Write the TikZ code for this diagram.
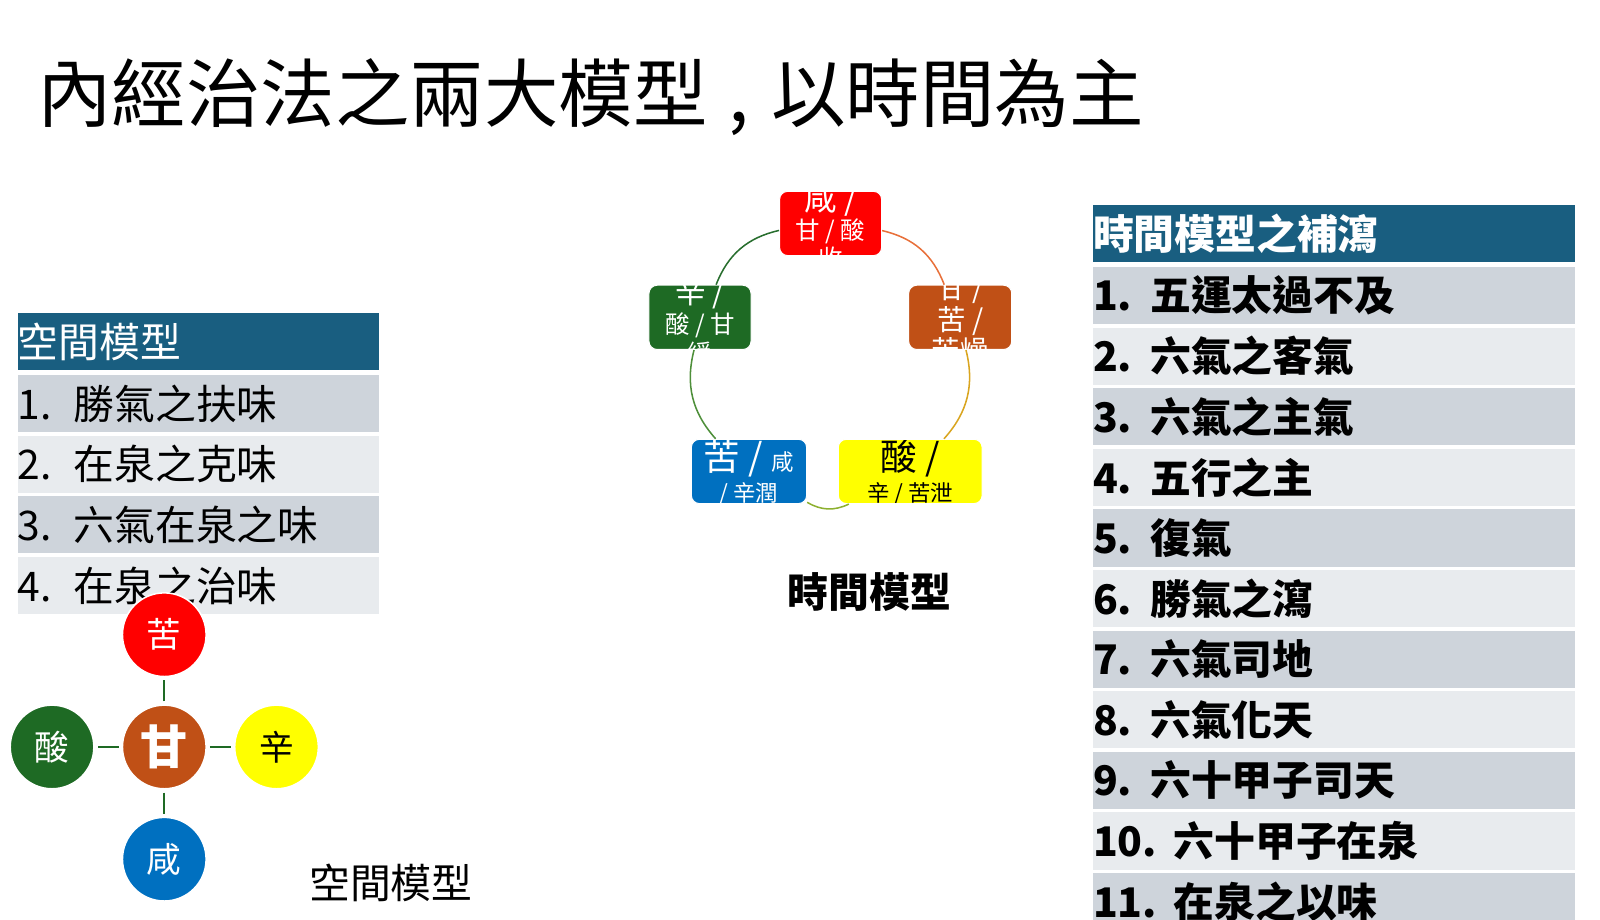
\documentclass[tikz,border=0pt]{standalone}
\usepackage{fontspec}
\setmainfont{Noto Sans CJK TC}
\usepackage{xcolor}
\usepackage{tikz}
\usetikzlibrary{positioning,calc}

\definecolor{hdrblue}{RGB}{25,94,128}
\definecolor{rowdark}{RGB}{206,212,219}
\definecolor{rowlight}{RGB}{232,235,238}
\definecolor{fire}{RGB}{255,0,0}
\definecolor{earth}{RGB}{192,80,22}
\definecolor{wood}{RGB}{30,106,36}
\definecolor{metal}{RGB}{255,255,0}
\definecolor{water}{RGB}{0,112,192}
\definecolor{arcfe}{RGB}{232,112,58}
\definecolor{arcem}{RGB}{217,165,32}
\definecolor{arcmw}{RGB}{141,176,48}
\definecolor{arcww}{RGB}{78,143,58}
\definecolor{arcwf}{RGB}{40,110,46}

\newcommand{\sz}[2]{\fontsize{#1}{#2}\selectfont}
\newcommand{\idx}[2]{\makebox[#1][l]{#2}}

\tikzset{
  hdr/.style={fill=hdrblue, text=white, inner sep=0pt, minimum height=55pt, align=left},
  lrow/.style={inner sep=0pt, minimum height=56pt, text width=354pt, align=left, font=\sz{40}{44}},
  rrow/.style={inner sep=0pt, minimum height=56pt, text width=472pt, align=left, font=\bfseries\sz{40}{44}},
  taste/.style={circle, minimum size=82pt, inner sep=0pt, draw=white, line width=1.5pt, text=white, font=\sz{34}{38}},
  tbox/.style={rounded corners=8pt, minimum height=63pt, inner sep=0pt, draw=white, line width=1pt},
  ring/.style={line width=1.5pt}
}

\begin{document}
\begin{tikzpicture}[x=1pt,y=1pt]
			\useasboundingbox (0,0) rectangle (1568,-901.6);
			\clip (0,0) rectangle (1568,-901.6);
			\node[anchor=west, font=\sz{73}{80}] (title) at (33,-95) {內經治法之兩大模型\hspace{20pt},\hspace{22pt}以時間為主};

			% space model table
			\node[hdr, anchor=north west, text width=354pt, font=\sz{40}{44}] (sh) at (17,-307) {空間模型};
			\node[lrow, fill=rowdark, below=5pt of sh] (s1) {\idx{55pt}{1.}勝氣之扶味};
			\node[lrow, fill=rowlight, below=3pt of s1] (s2) {\idx{55pt}{2.}在泉之克味};
			\node[lrow, fill=rowdark, below=3pt of s2] (s3) {\idx{55pt}{3.}六氣在泉之味};
			\node[lrow, fill=rowlight, below=3pt of s3] (s4) {\idx{55pt}{4.}在泉之治味};

			% space model circles
			\node[taste, fill=earth, font=\bfseries\sz{46}{50}] (gan) at (161,-732) {甘};
			\node[taste, fill=fire] (ku) at (161,-622) {苦};
			\node[taste, fill=wood] (suan) at (51,-732) {酸};
			\node[taste, fill=metal, text=black] (xin) at (271,-732) {辛};
			\node[taste, fill=water] (xian) at (161,-842) {咸};
			\draw[wood, line width=2pt, shorten <=3pt, shorten >=3pt] (gan) -- (ku);
			\draw[wood, line width=2pt, shorten <=3pt, shorten >=3pt] (gan) -- (suan);
			\draw[wood, line width=2pt, shorten <=3pt, shorten >=3pt] (gan) -- (xin);
			\draw[wood, line width=2pt, shorten <=3pt, shorten >=3pt] (gan) -- (xian);
			\node[font=\sz{40}{44}] (slabel) at (383,-865) {空間模型};

			% time model ring
			\node[tbox, fill=fire, minimum width=100pt, path picture={
				\node[text=white, align=center, font=\sz{24}{28}, yshift=-3pt] at (path picture bounding box.center)
					{\sz{32}{28}咸 /\\\sz{24}{28}甘 / 酸\\\sz{24}{28}收};}] (tfire) at (814,-219) {};
			\node[tbox, fill=earth, minimum width=101pt, path picture={
				\node[text=white, align=center, font=\sz{28}{31}, yshift=-2pt] at (path picture bounding box.center)
					{\sz{28}{31}甘 /\\\sz{28}{31}苦 /\\\sz{28}{31}苦燥};}] (tearth) at (941,-311) {};
			\node[tbox, fill=metal, minimum width=141pt, path picture={
				\node[text=black, align=center, font=\sz{22}{31}, yshift=-1pt] at (path picture bounding box.center)
					{\sz{36}{31}酸 /\\\sz{22}{31}辛 / 苦泄};}] (tmetal) at (892,-462) {};
			\node[tbox, fill=water, minimum width=113pt, path picture={
				\node[text=white, align=center, font=\sz{22}{30}, yshift=-1pt] at (path picture bounding box.center)
					{\sz{36}{30}苦 / {\sz{22}{30}咸}\\\sz{22}{30}/ 辛潤};}] (twater) at (734,-462) {};
			\node[tbox, fill=wood, minimum width=100pt, path picture={
				\node[text=white, align=center, font=\sz{24}{29}, yshift=-4pt] at (path picture bounding box.center)
					{\sz{30}{29}辛 /\\\sz{24}{29}酸 / 甘\\\sz{24}{29}緩};}] (twood) at (686,-311) {};
			\draw[ring, arcfe] (tfire) to[bend left=28] (tearth);
			\draw[ring, arcem] (tearth) to[bend left=28] (tmetal);
			\draw[ring, arcmw] (tmetal) to[bend left=28] (twater);
			\draw[ring, arcww] (twater) to[bend left=28] (twood);
			\draw[ring, arcwf] (twood) to[bend left=28] (tfire);
			\node[font=\bfseries\sz{40}{44}] (tlabel) at (852,-580) {時間模型};

			% time model table
			\node[hdr, anchor=north west, minimum height=56pt, text width=472pt, font=\bfseries\sz{40}{44}] (th) at (1071,-201) {時間模型之補瀉};
			\node[rrow, fill=rowdark, below=4pt of th] (t1) {\idx{56pt}{1.}五運太過不及};
			\node[rrow, fill=rowlight, below=3pt of t1] (t2) {\idx{56pt}{2.}六氣之客氣};
			\node[rrow, fill=rowdark, below=3pt of t2] (t3) {\idx{56pt}{3.}六氣之主氣};
			\node[rrow, fill=rowlight, below=3pt of t3] (t4) {\idx{56pt}{4.}五行之主};
			\node[rrow, fill=rowdark, below=3pt of t4] (t5) {\idx{56pt}{5.}復氣};
			\node[rrow, fill=rowlight, below=3pt of t5] (t6) {\idx{56pt}{6.}勝氣之瀉};
			\node[rrow, fill=rowdark, below=3pt of t6] (t7) {\idx{56pt}{7.}六氣司地};
			\node[rrow, fill=rowlight, below=3pt of t7] (t8) {\idx{56pt}{8.}六氣化天};
			\node[rrow, fill=rowdark, below=3pt of t8] (t9) {\idx{56pt}{9.}六十甲子司天};
			\node[rrow, fill=rowlight, below=3pt of t9] (t10) {\idx{79pt}{10.}六十甲子在泉};
			\node[rrow, fill=rowdark, below=3pt of t10] (t11) {\idx{79pt}{11.}在泉之以味};
		\end{tikzpicture}
\end{document}
